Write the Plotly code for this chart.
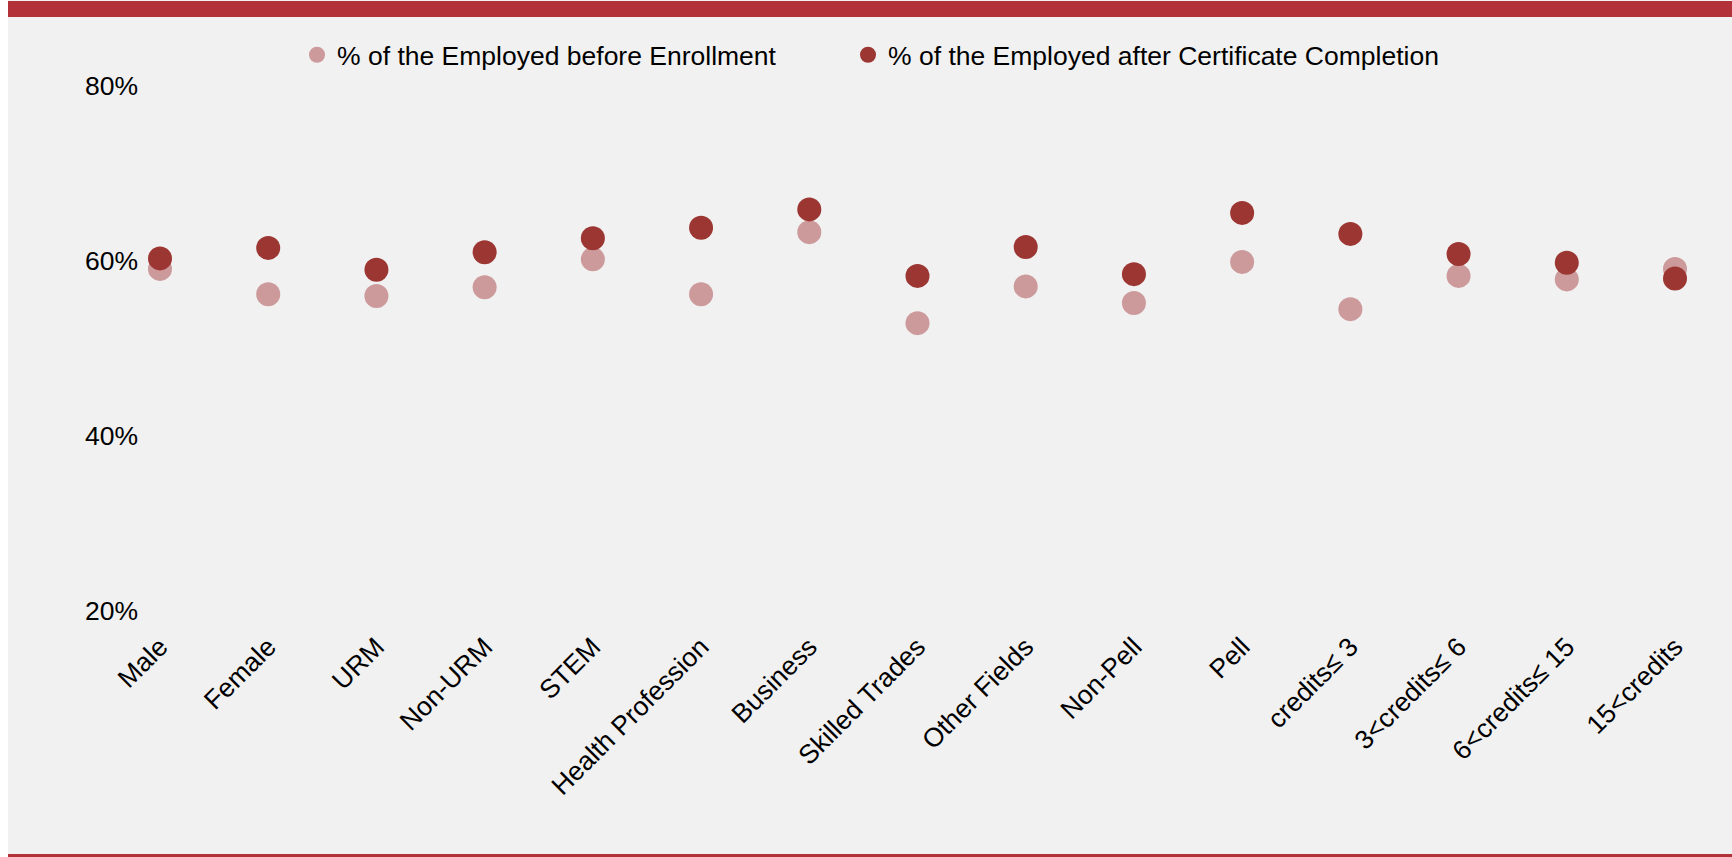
import plotly.graph_objects as go

# Categories shown along the horizontal axis
categories = [
    "Male", "Female", "URM", "Non-URM", "STEM", "Health Profession",
    "Business", "Skilled Trades", "Other Fields", "Non-Pell", "Pell",
    "credits≤ 3", "3<credits≤ 6", "6<credits≤ 15", "15<credits",
]

# Share employed before enrollment
before_enrollment = [
    0.591, 0.562, 0.560, 0.570, 0.602, 0.562, 0.633, 0.529,
    0.571, 0.552, 0.599, 0.545, 0.583, 0.579, 0.591,
]

# Share employed after certificate completion
after_completion = [
    0.603, 0.615, 0.590, 0.610, 0.626, 0.638, 0.659, 0.583,
    0.616, 0.585, 0.655, 0.631, 0.608, 0.598, 0.580,
]

y_ticks = [0.2, 0.4, 0.6, 0.8]
y_tick_labels = ["20%", "40%", "60%", "80%"]

series_names = [
    "% of the Employed before Enrollment",
    "% of the Employed after Certificate Completion",
]

W, H = 1732, 857
L, R, T, B = 145, 12, 86, 246
PW, PH = W - L - R, H - T - B

LIGHT = "#cd9a9c"
DARK = "#9c3632"
BAND = "#b3323a"
BG = "#f1f1f1"
FONT = "Arial, 'Liberation Sans', sans-serif"


def px_x(p):
    return (p - L) / PW


def px_y(p):
    return (H - B - p) / PH


x_idx = list(range(len(categories)))

fig = go.Figure()
fig.add_trace(go.Scatter(
    x=x_idx, y=before_enrollment, mode="markers", name=series_names[0],
    marker=dict(size=24, color=LIGHT, line=dict(width=0)),
    legendwidth=506,
))
fig.add_trace(go.Scatter(
    x=x_idx, y=after_completion, mode="markers", name=series_names[1],
    marker=dict(size=24, color=DARK, line=dict(width=0)),
))

shapes = [
    # white strip on the far left
    dict(type="rect", xref="paper", yref="paper", layer="below",
         x0=px_x(0), x1=px_x(8), y0=px_y(H), y1=px_y(0),
         fillcolor="white", line=dict(width=0)),
    # top band
    dict(type="rect", xref="paper", yref="paper", layer="below",
         x0=px_x(8), x1=px_x(W), y0=px_y(17), y1=px_y(1),
         fillcolor=BAND, line=dict(width=0)),
    # bottom rule
    dict(type="rect", xref="paper", yref="paper", layer="below",
         x0=px_x(8), x1=px_x(W), y0=px_y(H), y1=px_y(854),
         fillcolor=BAND, line=dict(width=0)),
]

spacing = (1675 - 160) / 14
x_start = -(160 - L) / spacing
x_end = 14 + (W - R - 1675) / spacing

fig.update_layout(
    width=W, height=H,
    margin=dict(l=L, r=R, t=T, b=B, pad=0),
    paper_bgcolor=BG, plot_bgcolor=BG,
    font=dict(family=FONT, size=26.5, color="black"),
    shapes=shapes,
    showlegend=True,
    legend=dict(
        orientation="h", x=px_x(297), y=px_y(55), xanchor="left", yanchor="middle",
        bgcolor="rgba(0,0,0,0)", font=dict(size=26.5),
        itemsizing="trace", traceorder="normal",
    ),
    xaxis=dict(
        range=[x_start, x_end], tickmode="array", tickvals=x_idx, ticktext=categories,
        tickangle=-45, showgrid=False, zeroline=False, showline=False, ticks="",
        ticklabelstandoff=14,
    ),
    yaxis=dict(
        range=[0.2, 0.8], tickmode="array", tickvals=y_ticks, ticktext=y_tick_labels,
        showgrid=False, zeroline=False, showline=False, ticks="",
        ticklabelstandoff=6,
    ),
)

fig.write_html("out.html")
